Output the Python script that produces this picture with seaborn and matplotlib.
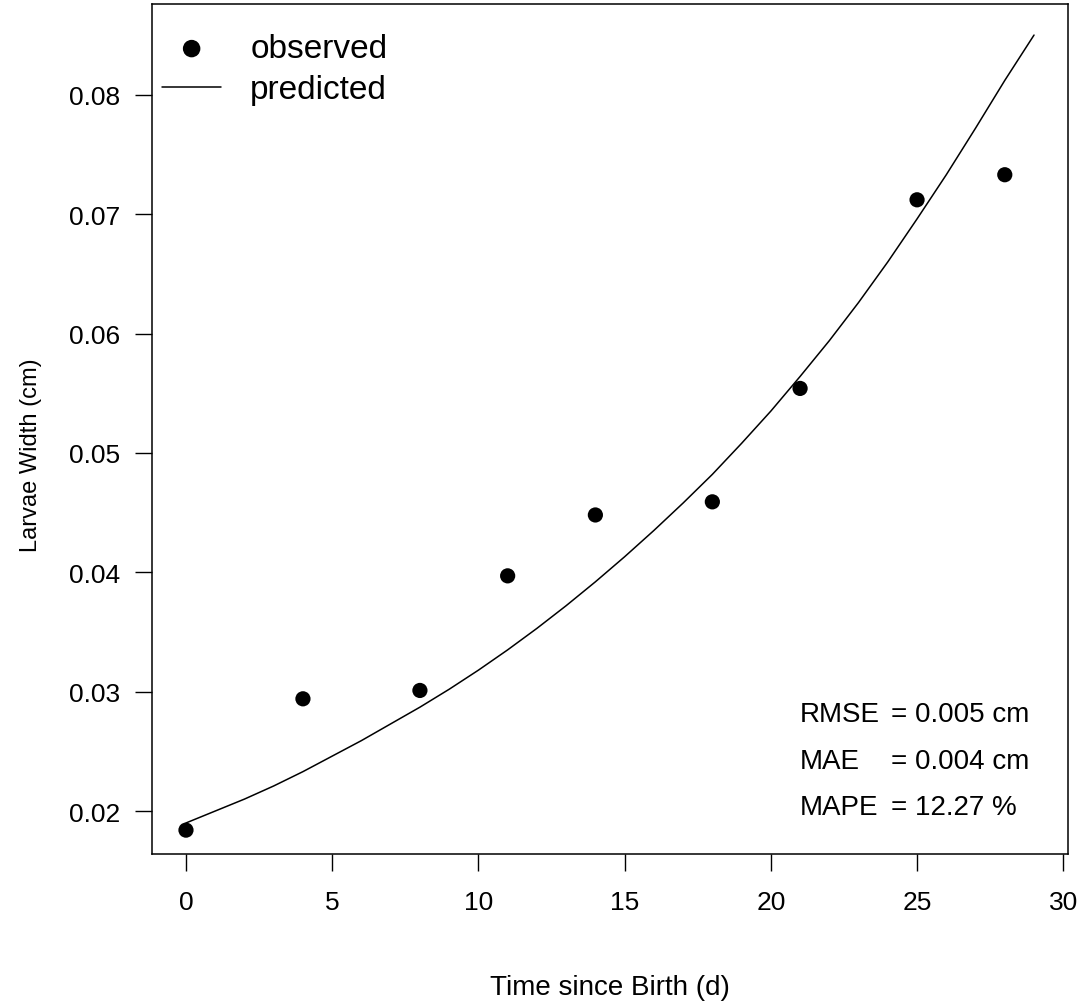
import matplotlib
matplotlib.use("Agg")
import matplotlib.pyplot as plt
import seaborn as sns
import pandas as pd

# observed data
obs_days = [0, 4, 8, 11, 14, 18, 21, 25, 28]
obs_width = [0.0184, 0.0294, 0.0301, 0.0397, 0.0448, 0.0459, 0.0554, 0.0712, 0.0733]

# predicted curve
pred_days = [0, 1, 2, 3, 4, 5, 6, 7, 8, 9, 10, 11, 12, 13, 14, 15, 16, 17, 18, 19,
             20, 21, 22, 23, 24, 25, 26, 27, 28, 29]
pred_width = [0.0190, 0.0200, 0.0210, 0.0221, 0.0233, 0.0246, 0.0259, 0.0273, 0.0287, 0.0302,
              0.0318, 0.0335, 0.0353, 0.0372, 0.0392, 0.0413, 0.0435, 0.0458, 0.0482, 0.0508,
              0.0535, 0.0564, 0.0594, 0.0626, 0.0660, 0.0696, 0.0733, 0.0772, 0.0812, 0.0850]

x_ticks = [0, 5, 10, 15, 20, 25, 30]
y_ticks = [0.02, 0.03, 0.04, 0.05, 0.06, 0.07, 0.08]
y_tick_labels = ["0.02", "0.03", "0.04", "0.05", "0.06", "0.07", "0.08"]

metric_names = ["RMSE", "MAE", "MAPE"]
metric_values = ["= 0.005 cm", "= 0.004 cm", "= 12.27 %"]

sns.set_theme(style="ticks")
plt.rcParams["font.family"] = ["Liberation Sans", "DejaVu Sans"]
plt.rcParams["text.color"] = "black"
plt.rcParams["axes.labelcolor"] = "black"

obs_df = pd.DataFrame({"day": obs_days, "width": obs_width})
pred_df = pd.DataFrame({"day": pred_days, "width": pred_width})

fig = plt.figure(figsize=(10.83, 10.04), dpi=100)
ax = fig.add_axes([0.1404, 0.1484, 0.8457, 0.8466])

sns.lineplot(data=pred_df, x="day", y="width", ax=ax, color="black", linewidth=1.1,
             label="predicted", sort=False)
sns.scatterplot(data=obs_df, x="day", y="width", ax=ax, color="black", s=120,
                edgecolor="none", label="observed", zorder=3)

ax.set_xlim(-1.16, 30.16)
ax.set_ylim(0.0164, 0.0876)
ax.set_xticks(x_ticks)
ax.set_xticklabels([str(t) for t in x_ticks])
ax.set_yticks(y_ticks)
ax.set_yticklabels(y_tick_labels)

for s in ax.spines.values():
    s.set_visible(True)
    s.set_linewidth(1.1)
    s.set_color("black")

ax.tick_params(axis="both", direction="out", length=12.2, width=1.0, color="black",
               labelsize=19, labelcolor="black")
ax.tick_params(axis="x", pad=14)
ax.tick_params(axis="y", pad=11)

ax.set_xlabel("Time since Birth (d)", fontsize=20, labelpad=43, color="black")
ax.set_ylabel("Larvae Width (cm)", fontsize=17, color="black")
ax.yaxis.set_label_coords(-0.120, 0.47)

handles, labels = ax.get_legend_handles_labels()
order = [labels.index("observed"), labels.index("predicted")]
leg = ax.legend([handles[i] for i in order], [labels[i] for i in order],
                loc="upper left", bbox_to_anchor=(0.011, 0.9655), frameon=False,
                fontsize=24, handlelength=1.77, handletextpad=0.87,
                labelspacing=0.3, borderpad=0, borderaxespad=0, markerscale=1.15)
for t in leg.get_texts():
    t.set_color("black")

# metrics annotation (data coordinates)
metric_y = [0.0281, 0.0242, 0.0203]
for name, val, yy in zip(metric_names, metric_values, metric_y):
    ax.text(21.0, yy, name, fontsize=20, ha="left", va="center", color="black")
    ax.text(24.1, yy, val, fontsize=20, ha="left", va="center", color="black")

fig.savefig("out.png", dpi=100, facecolor="white")
